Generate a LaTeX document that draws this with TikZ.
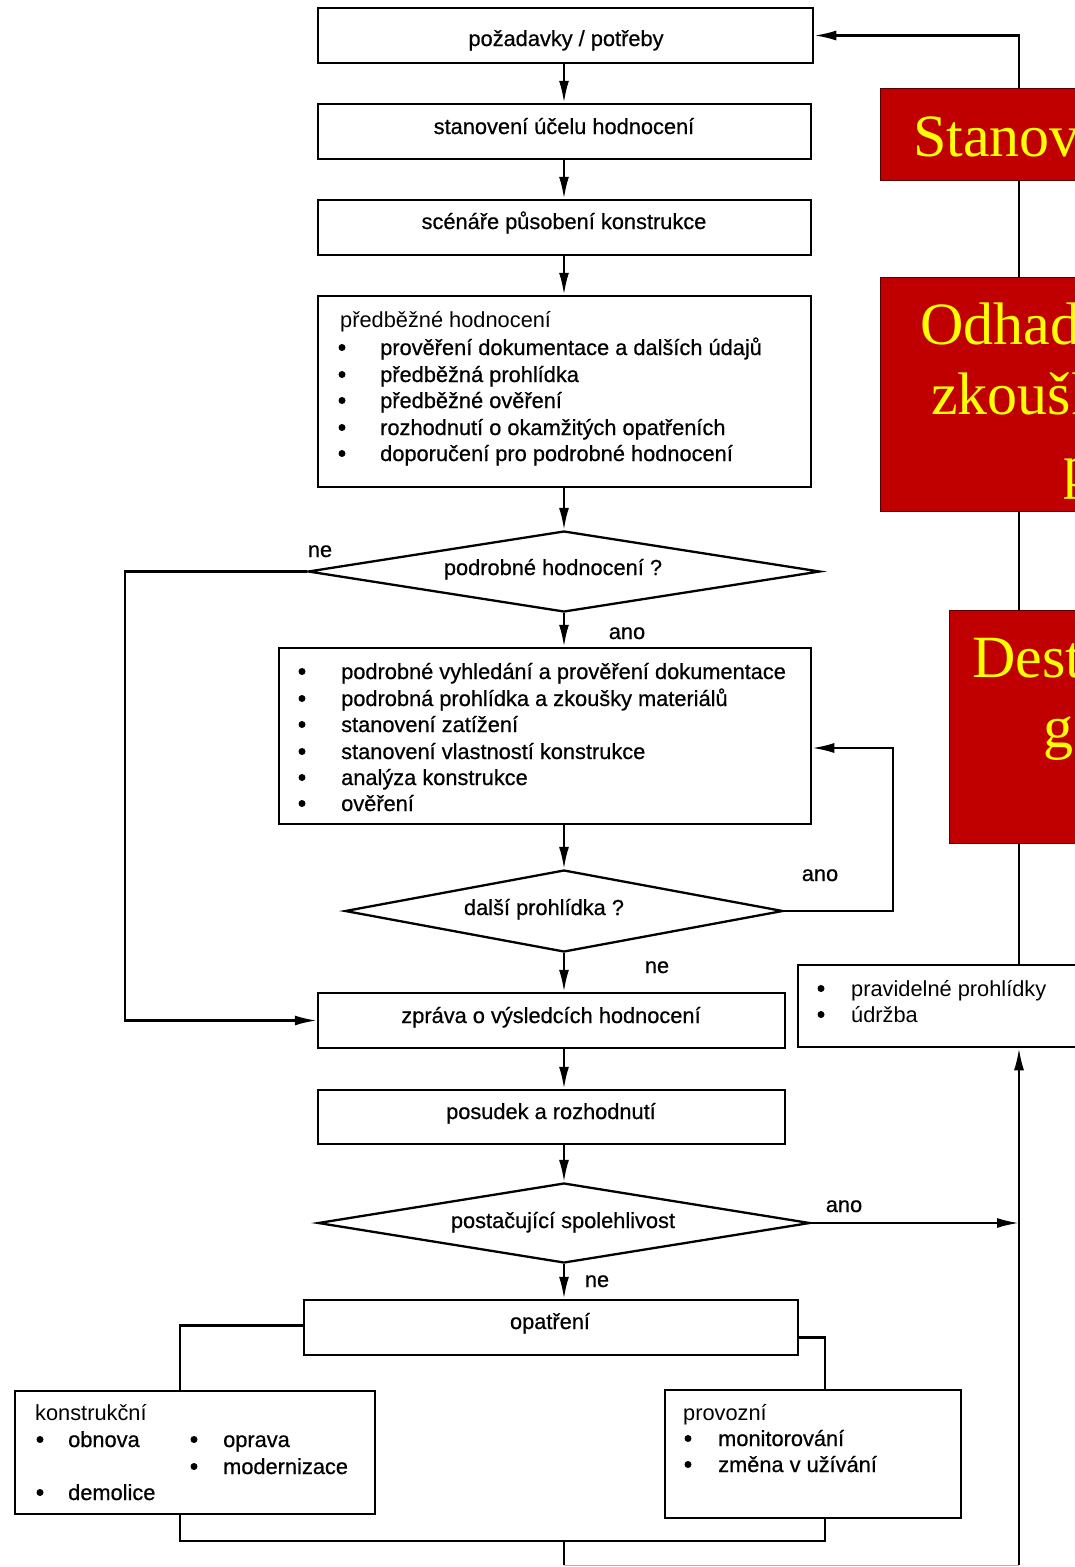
\documentclass[tikz,border=0pt]{standalone}
\usepackage{fontspec}
\setmainfont{Liberation Sans}
\newfontfamily\heavy[FakeBold=0.6]{Liberation Sans}
\newfontfamily\tnr{Liberation Serif}
\usetikzlibrary{shapes.geometric,arrows.meta,calc}
\definecolor{redbox}{RGB}{192,0,0}
\definecolor{redline}{RGB}{90,0,0}
\definecolor{yel}{RGB}{255,255,0}
\begin{document}
\begin{tikzpicture}[x=1pt,y=-1pt,
  box/.style={draw=black,line width=2.5pt,inner sep=0pt,rectangle},
  dia/.style={draw=black,line width=2.3pt,inner sep=0pt,diamond,aspect=6},
  txt/.style={inner sep=0pt,anchor=base,font=\heavy\fontsize{21.8}{26}\selectfont},
  ltxt/.style={txt,anchor=base west},
  htxt/.style={inner sep=0pt,anchor=base west,font=\fontsize{21.8}{26}\selectfont},
  bul/.style={circle,fill=black,inner sep=0pt,minimum size=7pt,yshift=7.5pt},
  ln/.style={line width=2.2pt},
  arr/.style={line width=2.2pt,-{Latex[length=22pt,width=10pt]}},
  redb/.style={draw=redline,line width=1pt,fill=redbox,inner sep=0pt,rectangle},
  rtxt/.style={inner sep=0pt,anchor=base west,text=yel,font=\tnr\fontsize{60}{69}\selectfont}
]
\useasboundingbox (0,0) rectangle (1075,1567);
\fill[white] (0,0) rectangle (1075,1567);
\clip (0,0) rectangle (1075,1567);

% helper coordinates
\coordinate (cx) at (564,0);
\coordinate (lx) at (125,0);
\coordinate (fx) at (893,0);
\coordinate (rv) at (1019,0);
\coordinate (kx) at (180,0);
\coordinate (px) at (825,0);
\coordinate (by) at (0,1541);
\coordinate (bt) at (0,1565);

% main boxes
\node[box,minimum width=495pt,minimum height=55pt] (b1) at (565.5,35.5) {};
\node[box,minimum width=493pt,minimum height=55pt] (b2) at (564.5,131.5) {};
\node[box,minimum width=493pt,minimum height=55pt] (b3) at (564.5,227.5) {};
\node[box,minimum width=493pt,minimum height=191pt] (b4) at (564.5,391.5) {};
\node[dia,minimum width=512pt,minimum height=81pt] (d1) at (564,571.5) {};
\node[box,minimum width=532pt,minimum height=176pt] (b5) at (545,736) {};
\node[dia,minimum width=438pt,minimum height=82pt] (d2) at (564,911) {};
\node[box,minimum width=467pt,minimum height=55pt] (b6) at (551.5,1020.5) {};
\node[box,minimum width=467pt,minimum height=54pt] (b7) at (551.5,1117) {};
\node[dia,minimum width=492pt,minimum height=80pt] (d3) at (564,1223) {};
\node[box,minimum width=494pt,minimum height=55pt] (b8) at (551,1327.5) {};
\node[box,minimum width=360pt,minimum height=123pt] (b9) at (195,1452.5) {};
\node[box,minimum width=296pt,minimum height=128pt] (b10) at (813,1454) {};
\node[box,minimum width=322pt,minimum height=82pt] (b11) at (959,1006) {};

% single-line texts
\node[txt] (t1) at (566,46) {požadavky / potřeby};
\node[txt] (t2) at (564,134) {stanovení účelu hodnocení};
\node[txt] (t3) at (564,229) {scénáře působení konstrukce};
\node[txt] (t4) at (553,575) {podrobné hodnocení ?};
\node[txt] (t5) at (544,915) {další prohlídka ?};
\node[txt] (t6) at (551,1023) {zpráva o výsledcích hodnocení};
\node[txt] (t7) at (551,1119) {posudek a rozhodnutí};
\node[txt] (t8) at (563,1228) {postačující spolehlivost};
\node[txt] (t9) at (550,1329) {opatření};

% preliminary assessment list
\node[htxt] (h4) at (340,327) {předběžné hodnocení};
\foreach \y/\s [count=\i] in {355/prověření dokumentace a dalších údajů,
  382/předběžná prohlídka, 408/předběžné ověření,
  435/rozhodnutí o okamžitých opatřeních, 461/doporučení pro podrobné hodnocení}{
  \node[bul] (p4b\i) at (342,\y) {};
  \node[ltxt] (p4t\i) at (380,\y) {\s};
}

% detailed assessment list
\foreach \y/\s [count=\i] in {679/podrobné vyhledání a prověření dokumentace,
  706/podrobná prohlídka a zkoušky materiálů, 732/stanovení zatížení,
  759/stanovení vlastností konstrukce, 785/analýza konstrukce, 811/ověření}{
  \node[bul] (p5b\i) at (302,\y) {};
  \node[ltxt] (p5t\i) at (341,\y) {\s};
}

% konstrukční
\node[htxt] (h9) at (35,1420) {konstrukční};
\node[bul] (k1b) at (40,1447) {};
\node[ltxt] (k1t) at (68,1447) {obnova};
\node[bul] (k2b) at (194,1447) {};
\node[ltxt] (k2t) at (223,1447) {oprava};
\node[bul] (k3b) at (194,1474) {};
\node[ltxt] (k3t) at (223,1474) {modernizace};
\node[bul] (k4b) at (40,1500) {};
\node[ltxt] (k4t) at (68,1500) {demolice};

% provozní
\node[htxt] (h10) at (683,1420) {provozní};
\node[bul] (o1b) at (688,1446) {};
\node[ltxt] (o1t) at (718,1446) {monitorování};
\node[bul] (o2b) at (688,1472) {};
\node[ltxt] (o2t) at (718,1472) {změna v užívání};

% pravidelné
\node[bul] (r1b) at (821,996) {};
\node[htxt] (r1t) at (851,996) {pravidelné prohlídky};
\node[bul] (r2b) at (821,1022) {};
\node[htxt] (r2t) at (851,1022) {údržba};

% branch labels
\node[txt] (l1) at (320,557) {ne};
\node[txt] (l2) at (627,639) {ano};
\node[txt] (l3) at (820,881) {ano};
\node[txt] (l4) at (657,973) {ne};
\node[txt] (l5) at (844,1212) {ano};
\node[txt] (l6) at (597,1287) {ne};

% main flow
\draw[arr] (b1.south -| cx) -- (b2.north -| cx);
\draw[arr] (b2.south -| cx) -- (b3.north -| cx);
\draw[arr] (b3.south -| cx) -- (b4.north -| cx);
\draw[arr] (b4.south -| cx) -- (d1.north);
\draw[arr] (d1.south) -- (b5.north -| cx);
\draw[arr] (b5.south -| cx) -- (d2.north);
\draw[arr] (d2.south) -- (b6.north -| cx);
\draw[arr] (b6.south -| cx) -- (b7.north -| cx);
\draw[arr] (b7.south -| cx) -- (d3.north);
\draw[arr] (d3.south) -- (b8.north -| cx);

% ne branch of d1
\draw[arr] (d1.west) -- (d1.west -| lx) |- (b6.west);
% ano loop of d2
\draw[arr] (d2.east) -- (d2.east -| fx) |- ($(b5.east)+(0,12)$);
% ano of d3
\draw[arr] (d3.east) -- (d3.east -| rv);
% right feedback line
\draw[arr] (b11.north -| rv) -- (rv |- b1.east) -- (b1.east);

% measures
\draw[ln] ($(b8.west)+(0,-2)$) -- ($(b8.west -| kx)+(0,-2)$) -- (kx |- b9.north);
\draw[ln] ($(b8.east)+(0,10)$) -- ($(b8.east -| px)+(0,10)$) -- (px |- b10.north);
\draw[ln] (kx |- b9.south) -- (kx |- by) -- (px |- by) -- (px |- b10.south);
\draw[ln] (cx |- by) -- (cx |- bt);
\draw[gray!60,line width=1pt] (cx |- bt) -- (rv |- bt);
\draw[arr] (rv |- bt) -- (b11.south -| rv);

% red boxes
\node[redb,minimum width=320pt,minimum height=92pt] (r1) at (1040,134) {};
\node[redb,minimum width=320pt,minimum height=234pt] (r2) at (1040,394) {};
\node[redb,minimum width=251pt,minimum height=233pt] (r3) at (1074.5,726.5) {};
\node[rtxt] (rt1) at (913,156) {Stanov};
\node[rtxt] (rt2) at (920,344) {Odhad};
\node[rtxt] (rt3) at (931,414) {zkoušk};
\node[rtxt] (rt4) at (1063,486) {p};
\node[rtxt] (rt5) at (972,677) {Dest};
\node[rtxt] (rt6) at (1043,747) {ge};
\end{tikzpicture}
\end{document}
